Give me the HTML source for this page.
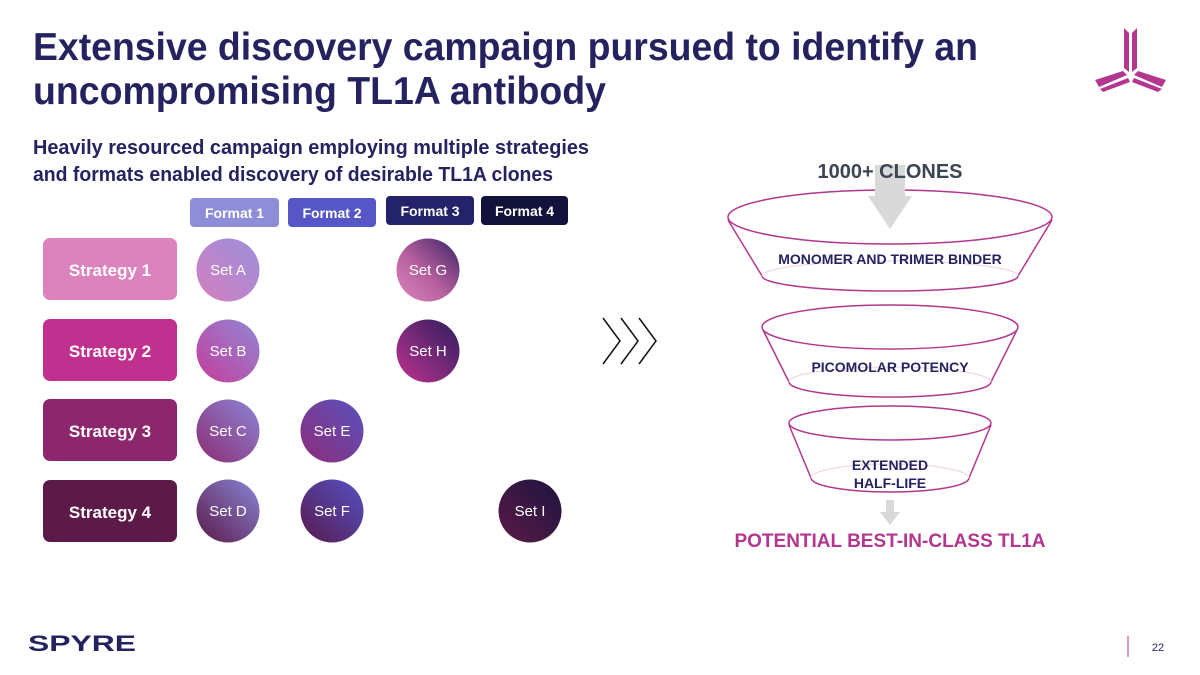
<!DOCTYPE html>
<html><head><meta charset="utf-8"><style>
html,body{margin:0;padding:0;background:#fff;}
svg{display:block;font-family:"Liberation Sans",Arial,sans-serif;}
</style></head><body>
<svg width="1200" height="675" viewBox="0 0 1200 675" xmlns="http://www.w3.org/2000/svg">
<defs>
<linearGradient id="gA" x1="1" y1="0" x2="0" y2="1"><stop offset="0" stop-color="#9b8fdc"/><stop offset="1" stop-color="#d47fbe"/></linearGradient>
<linearGradient id="gB" x1="1" y1="0" x2="0" y2="1"><stop offset="0" stop-color="#9088d6"/><stop offset="1" stop-color="#c43d9a"/></linearGradient>
<linearGradient id="gC" x1="1" y1="0" x2="0" y2="1"><stop offset="0" stop-color="#8c86d6"/><stop offset="1" stop-color="#8c2b72"/></linearGradient>
<linearGradient id="gD" x1="1" y1="0" x2="0" y2="1"><stop offset="0" stop-color="#8a86d8"/><stop offset="1" stop-color="#5a1a48"/></linearGradient>
<linearGradient id="gE" x1="1" y1="0" x2="0" y2="1"><stop offset="0" stop-color="#5852c0"/><stop offset="1" stop-color="#8e2c78"/></linearGradient>
<linearGradient id="gF" x1="1" y1="0" x2="0" y2="1"><stop offset="0" stop-color="#5352c4"/><stop offset="1" stop-color="#5a1a4e"/></linearGradient>
<linearGradient id="gG" x1="1" y1="0" x2="0" y2="1"><stop offset="0" stop-color="#3a2466"/><stop offset="0.55" stop-color="#b75f9e"/><stop offset="1" stop-color="#dc86c0"/></linearGradient>
<linearGradient id="gH" x1="1" y1="0" x2="0" y2="1"><stop offset="0" stop-color="#2c1f5e"/><stop offset="1" stop-color="#c0318f"/></linearGradient>
<linearGradient id="gI" x1="1" y1="0" x2="0" y2="1"><stop offset="0" stop-color="#1c1440"/><stop offset="1" stop-color="#5c1a46"/></linearGradient>
</defs>

<!-- title -->
<g fill="#25235f" font-weight="bold">
<text x="33" y="60" font-size="39" textLength="945" lengthAdjust="spacingAndGlyphs">Extensive discovery campaign pursued to identify an</text>
<text x="33" y="104" font-size="39" textLength="573" lengthAdjust="spacingAndGlyphs">uncompromising TL1A antibody</text>
<text x="33" y="154" font-size="20" textLength="556" lengthAdjust="spacingAndGlyphs">Heavily resourced campaign employing multiple strategies</text>
<text x="33" y="181" font-size="20" textLength="520" lengthAdjust="spacingAndGlyphs">and formats enabled discovery of desirable TL1A clones</text>
</g>

<!-- logo -->
<g fill="#b3378f">
<polygon points="1124,28 1129,33 1129,72 1124,68"/>
<polygon points="1132,33 1137,28 1137,68 1132,72"/>
<polygon points="1095,80 1123,71 1127,75 1099,87"/>
<polygon points="1100,89 1128,78 1130,82 1103,92"/>
<polygon points="1134,75 1138,71 1166,80 1162,87"/>
<polygon points="1132,82 1134,78 1162,89 1158,92"/>
</g>

<!-- formats -->
<g font-size="14" font-weight="bold" fill="#fff" text-anchor="middle">
<rect x="190" y="198" width="89" height="29" rx="4" fill="#8e8ed8"/><text x="234.5" y="218">Format 1</text>
<rect x="288" y="198" width="88" height="29" rx="4" fill="#5656c6"/><text x="332" y="218">Format 2</text>
<rect x="386" y="196" width="88" height="29" rx="4" fill="#24226a"/><text x="430" y="216">Format 3</text>
<rect x="481" y="196" width="87" height="29" rx="4" fill="#13123a"/><text x="524.5" y="216">Format 4</text>
</g>

<!-- strategies -->
<g font-size="17" font-weight="bold" fill="#fff" text-anchor="middle">
<rect x="43" y="238" width="134" height="62" rx="7" fill="#dc82bd"/><text x="110" y="276">Strategy 1</text>
<rect x="43" y="319" width="134" height="62" rx="7" fill="#c0318f"/><text x="110" y="357">Strategy 2</text>
<rect x="43" y="399" width="134" height="62" rx="7" fill="#8d276d"/><text x="110" y="437">Strategy 3</text>
<rect x="43" y="480" width="134" height="62" rx="7" fill="#5c1a48"/><text x="110" y="518">Strategy 4</text>
</g>

<!-- sets -->
<g font-size="15" fill="#fff" text-anchor="middle">
<circle cx="228" cy="270" r="31.5" fill="url(#gA)"/><text x="228" y="275">Set A</text>
<circle cx="428" cy="270" r="31.5" fill="url(#gG)"/><text x="428" y="275">Set G</text>
<circle cx="228" cy="351" r="31.5" fill="url(#gB)"/><text x="228" y="356">Set B</text>
<circle cx="428" cy="351" r="31.5" fill="url(#gH)"/><text x="428" y="356">Set H</text>
<circle cx="228" cy="431" r="31.5" fill="url(#gC)"/><text x="228" y="436">Set C</text>
<circle cx="332" cy="431" r="31.5" fill="url(#gE)"/><text x="332" y="436">Set E</text>
<circle cx="228" cy="511" r="31.5" fill="url(#gD)"/><text x="228" y="516">Set D</text>
<circle cx="332" cy="511" r="31.5" fill="url(#gF)"/><text x="332" y="516">Set F</text>
<circle cx="530" cy="511" r="31.5" fill="url(#gI)"/><text x="530" y="516">Set I</text>
</g>

<!-- chevrons -->
<g fill="none" stroke="#111" stroke-width="1.5">
<polyline points="603,318 620,341 603,364"/>
<polyline points="621,318 638,341 621,364"/>
<polyline points="639,318 656,341 639,364"/>
</g>

<!-- funnel -->
<g fill="none" stroke="#b3378f" stroke-width="1.5">
<path d="M728,220 L762,276 M1052,220 L1018,276"/>
<path d="M762,276 A128,15 0 0 0 1018,276"/>
<path d="M762,276 A128,15 0 0 1 1018,276" stroke="#f0d0e4" stroke-width="1"/>
<ellipse cx="890" cy="217" rx="162" ry="27" fill="#fff"/>
<path d="M763,330 L789,382 M1017,330 L991,382"/>
<path d="M789,382 A101,15 0 0 0 991,382"/>
<path d="M789,382 A101,15 0 0 1 991,382" stroke="#f0d0e4" stroke-width="1"/>
<ellipse cx="890" cy="327" rx="128" ry="22"/>
<path d="M789,425 L811,478 M991,425 L969,478"/>
<path d="M811,478 A79,14 0 0 0 969,478"/>
<path d="M811,478 A79,14 0 0 1 969,478" stroke="#f0d0e4" stroke-width="1"/>
<ellipse cx="890" cy="423" rx="101" ry="17"/>
</g>
<polygon points="875,165 905,165 905,196 912,196 890,229 868,196 875,196" fill="#d9d9d9"/>
<polygon points="886,500 894,500 894,512 900,512 890,525 880,512 886,512" fill="#d9d9d9"/>

<g font-weight="bold" text-anchor="middle">
<text x="890" y="178" font-size="20" fill="#3c4552">1000+ CLONES</text>
<text x="890" y="264" font-size="14" fill="#25235f">MONOMER AND TRIMER BINDER</text>
<text x="890" y="372" font-size="14" fill="#25235f">PICOMOLAR POTENCY</text>
<text x="890" y="470" font-size="14" fill="#25235f">EXTENDED</text>
<text x="890" y="488" font-size="14" fill="#25235f">HALF-LIFE</text>
<text x="890" y="547" font-size="19" fill="#b3378f">POTENTIAL BEST-IN-CLASS TL1A</text>
</g>

<!-- footer -->
<text x="28" y="651" font-size="22" font-weight="bold" fill="#25235f" textLength="108" lengthAdjust="spacingAndGlyphs" transform="translate(0,0)">SPYRE</text>
<line x1="1128" y1="636" x2="1128" y2="657" stroke="#b3378f" stroke-width="1"/>
<text x="1158" y="651" font-size="11" fill="#25235f" text-anchor="middle">22</text>
</svg>
</body></html>
